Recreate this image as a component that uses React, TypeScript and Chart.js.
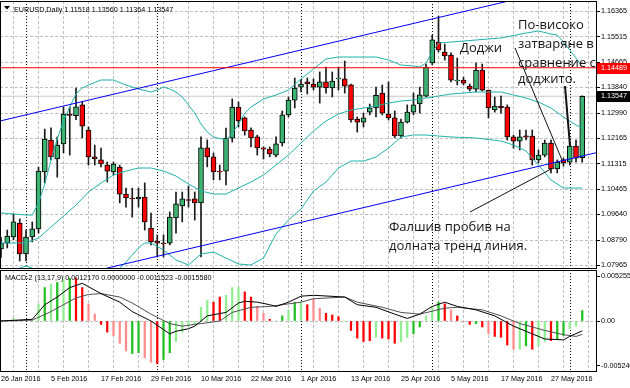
import React, { useEffect, useRef } from 'react';
import { Chart, registerables } from 'chart.js';
Chart.register(...registerables);

// ---------- data ----------
const dateTickIdx = [0, 8, 16, 24, 32, 40, 48, 56, 64, 72, 80, 88];
const dateTickLabels = ['26 Jan 2016', '5 Feb 2016', '17 Feb 2016', '29 Feb 2016', '10 Mar 2016', '22 Mar 2016', '1 Apr 2016', '13 Apr 2016', '25 Apr 2016', '5 May 2016', '17 May 2016', '27 May 2016'];
const monthStartIdx = [4, 25, 48, 69, 91];
const priceTicks = [1.16365, 1.15515, 1.14665, 1.1384, 1.1299, 1.12165, 1.11315, 1.10465, 1.0964, 1.0879, 1.07965];

const openP = [1.0850, 1.0869, 1.0889, 1.0935, 1.0833, 1.0889, 1.0916, 1.1104, 1.1210, 1.1147,
  1.1197, 1.1296, 1.1290, 1.1326, 1.1243, 1.1154, 1.1144, 1.1127, 1.1104, 1.1120,
  1.1031, 1.1018, 1.1015, 1.1021, 1.0919, 1.0876, 1.0869, 1.0869, 1.0952, 1.0992,
  1.1013, 1.1015, 1.1002, 1.1184, 1.1154, 1.1107, 1.1107, 1.1216, 1.1319, 1.1283,
  1.1243, 1.1220, 1.1184, 1.1180, 1.1160, 1.1200, 1.1293, 1.1342, 1.1385, 1.1402,
  1.1395, 1.1385, 1.1402, 1.1382, 1.1412, 1.1412, 1.1392, 1.1279, 1.1269, 1.1302,
  1.1316, 1.1365, 1.1296, 1.1283, 1.1223, 1.1269, 1.1302, 1.1329, 1.1355, 1.1465,
  1.1534, 1.1501, 1.1491, 1.1405, 1.1408, 1.1388, 1.1378, 1.1441, 1.1375, 1.1309,
  1.1322, 1.1319, 1.1220, 1.1206, 1.1224, 1.1223, 1.1144, 1.1160, 1.1200, 1.1114,
  1.1144, 1.1137, 1.1190, 1.11518];
const highP = [1.0888, 1.0912, 1.0965, 1.0949, 1.0912, 1.0939, 1.1120, 1.1246, 1.1250, 1.1220,
  1.1319, 1.1319, 1.1382, 1.1336, 1.1253, 1.1193, 1.1183, 1.1137, 1.1137, 1.1127,
  1.1051, 1.1051, 1.1051, 1.1068, 1.0968, 1.0896, 1.0896, 1.0972, 1.1038, 1.1038,
  1.1058, 1.1038, 1.1220, 1.1210, 1.1167, 1.1127, 1.1249, 1.1346, 1.1336, 1.1286,
  1.1250, 1.1226, 1.1187, 1.1187, 1.1220, 1.1306, 1.1352, 1.1415, 1.1408, 1.1415,
  1.1412, 1.1435, 1.1451, 1.1435, 1.1451, 1.1471, 1.1395, 1.1286, 1.1299, 1.1329,
  1.1385, 1.1392, 1.1402, 1.1306, 1.1279, 1.1326, 1.1365, 1.1385, 1.1461, 1.1557,
  1.1620, 1.1527, 1.1498, 1.1481, 1.1418, 1.1395, 1.1464, 1.1461, 1.1375, 1.1352,
  1.1355, 1.1326, 1.1226, 1.1243, 1.1243, 1.1243, 1.1177, 1.1210, 1.1210, 1.1144,
  1.1150, 1.1200, 1.1210, 1.13560];
const lowP = [1.0822, 1.0853, 1.0880, 1.0810, 1.0810, 1.0873, 1.0902, 1.1068, 1.1144, 1.1087,
  1.1167, 1.1160, 1.1277, 1.1217, 1.1127, 1.1127, 1.1121, 1.1071, 1.1094, 1.1002,
  1.0988, 1.0955, 1.0988, 1.0912, 1.0863, 1.0823, 1.0823, 1.0863, 1.0902, 1.0939,
  1.0988, 1.0945, 1.0823, 1.1121, 1.1078, 1.1078, 1.1061, 1.1203, 1.1253, 1.1226,
  1.1187, 1.1160, 1.1147, 1.1154, 1.1154, 1.1190, 1.1286, 1.1316, 1.1369, 1.1362,
  1.1375, 1.1332, 1.1365, 1.1352, 1.1375, 1.1365, 1.1269, 1.1236, 1.1253, 1.1293,
  1.1286, 1.1293, 1.1276, 1.1217, 1.1217, 1.1266, 1.1293, 1.1299, 1.1352, 1.1458,
  1.1501, 1.1474, 1.1402, 1.1392, 1.1392, 1.1372, 1.1369, 1.1372, 1.1283, 1.1302,
  1.1299, 1.1210, 1.1183, 1.1177, 1.1210, 1.1127, 1.1134, 1.1154, 1.1101, 1.1101,
  1.1124, 1.1127, 1.1137, 1.11364];
const closeP = [1.0869, 1.0892, 1.0939, 1.0833, 1.0889, 1.0916, 1.1107, 1.1213, 1.1154, 1.1193,
  1.1296, 1.1291, 1.1320, 1.1256, 1.1154, 1.1147, 1.1131, 1.1107, 1.1130, 1.1031,
  1.1018, 1.1015, 1.1021, 1.0939, 1.0873, 1.0869, 1.0866, 1.0955, 1.0999, 1.1015,
  1.1010, 1.1002, 1.1184, 1.1154, 1.1104, 1.1104, 1.1216, 1.1319, 1.1273, 1.1240,
  1.1217, 1.1184, 1.1180, 1.1164, 1.1197, 1.1293, 1.1342, 1.1382, 1.1395, 1.1395,
  1.1385, 1.1402, 1.1382, 1.1405, 1.1415, 1.1388, 1.1276, 1.1269, 1.1283, 1.1316,
  1.1358, 1.1299, 1.1283, 1.1223, 1.1269, 1.1302, 1.1326, 1.1359, 1.1451, 1.1541,
  1.1508, 1.1488, 1.1408, 1.1408, 1.1398, 1.1378, 1.1441, 1.1375, 1.1316, 1.1322,
  1.1316, 1.1220, 1.1206, 1.1220, 1.1219, 1.1144, 1.1160, 1.1200, 1.1114, 1.1137,
  1.1134, 1.1190, 1.1150, 1.13547];

const bbUpperIdx = [0, 2, 4, 5, 6, 7, 8, 9, 10, 11, 12, 13, 14, 16, 18, 20, 22, 24, 25, 26, 27, 28, 29, 30, 31, 32, 33, 34, 36, 37, 38, 39, 40, 42, 44, 46, 48, 50, 52, 54, 56, 58, 60, 62, 64, 66, 67, 68, 69, 70, 72, 76, 80, 84, 86, 88, 89, 90, 91, 92, 93];
const bbUpper = [1.09685, 1.09652, 1.09618, 1.09618, 1.10015, 1.10644, 1.11437, 1.12132, 1.12727, 1.13190,
  1.13620, 1.13818, 1.13917, 1.14083, 1.14083, 1.13917, 1.13785, 1.13686, 1.13752, 1.13851,
  1.13785, 1.13686, 1.13521, 1.13256, 1.12991, 1.12628, 1.12363, 1.12198, 1.12099, 1.12330,
  1.12628, 1.12991, 1.13190, 1.13454, 1.13587, 1.13752, 1.14116, 1.14447, 1.14777, 1.14843,
  1.14843, 1.14843, 1.14843, 1.14744, 1.14579, 1.14546, 1.14513, 1.14645, 1.15009, 1.15306,
  1.15339, 1.15406, 1.15472, 1.15637, 1.15703, 1.15604, 1.15571, 1.15339, 1.15075, 1.14810,
  1.14513];
const bbMidIdx = [0, 4, 6, 8, 10, 12, 14, 16, 18, 20, 22, 24, 26, 28, 30, 32, 34, 36, 38, 40, 42, 44, 46, 48, 50, 52, 54, 56, 58, 60, 62, 64, 66, 68, 70, 72, 74, 76, 78, 80, 82, 84, 86, 88, 90, 92, 93];
const bbMid = [1.08693, 1.08693, 1.08858, 1.09222, 1.09585, 1.09949, 1.10379, 1.10677, 1.10941, 1.11073,
  1.11173, 1.11173, 1.11073, 1.10908, 1.10644, 1.10412, 1.10313, 1.10313, 1.10511, 1.10710,
  1.10941, 1.11272, 1.11603, 1.11999, 1.12396, 1.12727, 1.12958, 1.13091, 1.13157, 1.13223,
  1.13322, 1.13388, 1.13421, 1.13488, 1.13554, 1.13620, 1.13653, 1.13686, 1.13686, 1.13686,
  1.13587, 1.13488, 1.13355, 1.13157, 1.12859, 1.12595, 1.12495];
const bbLowerIdx = [0, 2, 4, 5, 6, 8, 10, 12, 14, 16, 18, 19, 20, 22, 23, 24, 26, 28, 30, 32, 34, 36, 38, 40, 42, 44, 46, 48, 50, 52, 54, 56, 58, 60, 62, 64, 66, 68, 70, 72, 76, 80, 82, 84, 86, 88, 90, 92, 93];
const bbLower = [1.07734, 1.07800, 1.07932, 1.07866, 1.07634, 1.07006, 1.06477, 1.06278, 1.06808, 1.07271,
  1.07667, 1.07866, 1.08064, 1.08527, 1.08693, 1.08693, 1.08461, 1.08130, 1.07965, 1.08329,
  1.08395, 1.08196, 1.07998, 1.07965, 1.08196, 1.08990, 1.09453, 1.09817, 1.10412, 1.10710,
  1.11173, 1.11404, 1.11404, 1.11536, 1.11834, 1.12198, 1.12264, 1.12264, 1.12231, 1.12198,
  1.12165, 1.12066, 1.11933, 1.11735, 1.11272, 1.10776, 1.10511, 1.10511, 1.10511];

// Trend channel, level lines
const channelIdx = [-0.16, 95.36];
const channelUpper = [1.12727, 1.17386];
const channelLower = [1.07026, 1.11685];
const resistanceLevel = 1.14489;
const lastPrice = 1.13547;

// MACD-2 (13,17,9)
const histVal = [0.0001, 0.0000, 0.0003, 0.0000, 0.0000, 0.0001, 0.0020, 0.0039, 0.0043, 0.0045,
  0.0049, 0.0050, 0.0050, 0.0039, 0.0020, 0.0008, -0.0004, -0.0013, -0.0017, -0.0026,
  -0.0035, -0.0038, -0.0037, -0.0043, -0.0048, -0.0050, -0.0045, -0.0037, -0.0024, -0.0013,
  -0.0006, -0.0003, 0.0016, 0.0024, 0.0022, 0.0028, 0.0030, 0.0039, 0.0039, 0.0034,
  0.0028, 0.0017, 0.0009, 0.0002, 0.0000, 0.0006, 0.0013, 0.0022, 0.0022, 0.0019,
  0.0026, 0.0015, 0.0009, 0.0007, 0.0005, 0.0000, -0.0011, -0.0020, -0.0024, -0.0023,
  -0.0019, -0.0020, -0.0021, -0.0026, -0.0024, -0.0019, -0.0015, -0.0007, 0.0006, 0.0017,
  0.0022, 0.0020, 0.0013, 0.0006, 0.0000, -0.0004, -0.0003, -0.0007, -0.0015, -0.0018,
  -0.0019, -0.0028, -0.0033, -0.0033, -0.0029, -0.0033, -0.0029, -0.0024, -0.0023, -0.0022,
  -0.0017, -0.0009, -0.0006, 0.0012170];
const histTone = 'gggrgggGgGgGRRrrRRrrrGGrrRGGggggggRRgggRRrrRgGgGgRrrRRRgRRRRgRRRggGGggGRrRrRGRrRRRrgGRggRGGggG'.split('');
const macdIdx = [0, 5, 7, 9, 11, 13, 14, 16, 19, 21, 24, 27, 28, 30, 31, 33, 36, 38, 39, 41, 43, 44, 46, 48, 50, 55, 57, 60, 63, 65, 67, 69, 71, 73, 76, 79, 82, 85, 87, 90, 91, 93];
const macdVal = [0, 0.0002, 0.0019, 0.0028, 0.0039, 0.0044, 0.0040, 0.0032, 0.0022, 0.0011,
  0, -0.0015, -0.0012, -0.0009, -0.0006, 0.0006, 0.0010, 0.0021, 0.0023, 0.0022,
  0.0019, 0.0017, 0.0022, 0.0029, 0.0030, 0.0028, 0.0019, 0.0016, 0.0008, 0.0003,
  0.0008, 0.0017, 0.0022, 0.0017, 0.0013, 0.0006, -0.0006, -0.0015, -0.0021, -0.0022,
  -0.0018, -0.0011523];
const signalIdx = [0, 5, 8, 12, 14, 16, 19, 21, 24, 27, 29, 32, 35, 37, 40, 43, 45, 48, 50, 55, 57, 61, 64, 67, 71, 73, 77, 80, 83, 87, 90, 92, 93];
const signalVal = [0, 0.0001, 0.0011, 0.0027, 0.0031, 0.0032, 0.0028, 0.0021, 0.0008, -0.0003,
  -0.0006, -0.0003, 0, 0.0010, 0.0016, 0.0017, 0.0019, 0.0022, 0.0026, 0.0028,
  0.0022, 0.0016, 0.0010, 0.0008, 0.0015, 0.0016, 0.0013, 0.0006, -0.0003, -0.0011,
  -0.0016, -0.0018, -0.0015580];
const macdTicks = [0.005255, 0, -0.005246];
const macdTickLabels = ['0.005255', '0.00', '-0.005246'];

// annotation pointers (bar index, price)
const arrowFromIdx = [82.24, 90.24, 75.04];
const arrowFromPrice = [1.15141, 1.13884, 1.09718];
const arrowToIdx = [89.76, 91.04, 88.32];
const arrowToPrice = [1.11437, 1.11900, 1.11173];

// ---------- styles ----------
const FONT = '"Liberation Sans", Arial, sans-serif';
const NOTE_FONT = '13px "Open Sans", "DejaVu Sans", sans-serif';
const BULL = '#3CB371';
const BEAR = '#FF0000';
const BB_COLOR = '#20B2AA';
const GRID = '#C0C0C0';
const TONES: Record<string, string> = { G: '#20C020', g: '#90EE90', R: '#FF0000', r: '#FF8C8C' };
const X_MIN = -0.16;
const X_MAX = 95.36;
const P_MIN = 1.07833;
const P_MAX = 1.16696;
const M_MIN = -0.005956;
const M_MAX = 0.005956;
const gridIdx = Array.from({ length: 24 }, (_, k) => k * 4);

const notes = [
  { text: 'Доджи', x: 460, y: 52 },
  { text: 'По-високо', x: 518, y: 28.5 },
  { text: 'затваряне в', x: 518, y: 47.5 },
  { text: 'сравнение с', x: 518, y: 66.5 },
  { text: 'доджито.', x: 518, y: 83 },
  { text: 'Фалшив пробив на', x: 389, y: 231 },
  { text: 'долната тренд линия.', x: 389, y: 250 },
];

function separators(chart: any) {
  const { ctx, chartArea: a, scales } = chart;
  ctx.save();
  ctx.strokeStyle = '#000';
  ctx.lineWidth = 1;
  ctx.setLineDash([1, 2]);
  monthStartIdx.forEach((i) => {
    const px = Math.round(scales.x.getPixelForValue(i)) + 0.5;
    ctx.beginPath();
    ctx.moveTo(px, a.top);
    ctx.lineTo(px, a.bottom);
    ctx.stroke();
  });
  ctx.restore();
}

function frame(chart: any) {
  const { ctx, chartArea: a } = chart;
  ctx.save();
  ctx.strokeStyle = '#000';
  ctx.lineWidth = 1;
  ctx.strokeRect(a.left + 0.5, a.top + 0.5, a.right - a.left - 1, a.bottom - a.top - 1);
  ctx.restore();
}

const mainDecor = {
  id: 'mainDecor',
  beforeDatasetsDraw(chart: any) {
    separators(chart);
  },
  afterDatasetsDraw(chart: any) {
    const { ctx, scales } = chart;
    const x = scales.x;
    const y = scales.y;
    ctx.save();
    ctx.strokeStyle = '#111';
    arrowFromIdx.forEach((fi, k) => {
      ctx.lineWidth = k === 1 ? 2 : 1;
      ctx.beginPath();
      ctx.moveTo(x.getPixelForValue(fi), y.getPixelForValue(arrowFromPrice[k]));
      ctx.lineTo(x.getPixelForValue(arrowToIdx[k]), y.getPixelForValue(arrowToPrice[k]));
      ctx.stroke();
    });
    ctx.fillStyle = '#151515';
    ctx.font = NOTE_FONT;
    ctx.textBaseline = 'alphabetic';
    ctx.textAlign = 'left';
    notes.forEach((n) => ctx.fillText(n.text, n.x, n.y));
    ctx.restore();
  },
  afterDraw(chart: any) {
    const { ctx, scales, chartArea: a } = chart;
    frame(chart);
    ctx.save();
    // title
    ctx.fillStyle = '#000';
    ctx.beginPath();
    ctx.moveTo(4, 6);
    ctx.lineTo(10, 6);
    ctx.lineTo(7, 9.5);
    ctx.closePath();
    ctx.fill();
    ctx.font = `7.2px ${FONT}`;
    ctx.textBaseline = 'alphabetic';
    ctx.fillText(`EURUSD,Daily ${openP[93].toFixed(5)} ${highP[93].toFixed(5)} ${lowP[93].toFixed(5)} ${closeP[93].toFixed(5)}`, 14, 11.5);
    // price boxes
    const box = (v: number, bg: string) => {
      const py = Math.round(scales.y.getPixelForValue(v));
      ctx.fillStyle = bg;
      ctx.fillRect(a.right, py - 5, 630 - a.right, 11);
      ctx.fillStyle = '#fff';
      ctx.textBaseline = 'middle';
      ctx.fillText(v.toFixed(5), a.right + 4, py + 0.5);
    };
    box(resistanceLevel, '#FF0000');
    box(lastPrice, '#000');
    ctx.restore();
  },
};

const macdDecor = {
  id: 'macdDecor',
  beforeDatasetsDraw(chart: any) {
    separators(chart);
  },
  afterDraw(chart: any) {
    const { ctx } = chart;
    frame(chart);
    ctx.save();
    ctx.fillStyle = '#000';
    ctx.font = `7.2px ${FONT}`;
    ctx.textBaseline = 'alphabetic';
    ctx.fillText(`MACD-2 (13,17,9) ${histVal[93].toFixed(7)} 0.0000000 ${macdVal[macdVal.length - 1].toFixed(7)} ${signalVal[signalVal.length - 1].toFixed(7)}`, 5, 10);
    ctx.restore();
  },
};

export default function App() {
  const mainRef = useRef<HTMLCanvasElement>(null);
  const macdRef = useRef<HTMLCanvasElement>(null);

  useEffect(() => {
    const line = (idx: number[], vals: number[], color: string, order: number, width = 1) => ({
      type: 'line' as const,
      data: idx.map((x, k) => ({ x, y: vals[k] })),
      borderColor: color,
      borderWidth: width,
      pointRadius: 0,
      tension: 0,
      order,
    });

    const main = new Chart(mainRef.current as HTMLCanvasElement, {
      type: 'bar',
      data: {
        datasets: [
          line(channelIdx, [lastPrice, lastPrice], '#C8C8C8', 12, 1),
          {
            type: 'bar',
            data: highP.map((h, i) => ({ x: i, y: [lowP[i], h] })),
            backgroundColor: '#1a1a1a',
            borderWidth: 0,
            barThickness: 1,
            grouped: false,
            order: 11,
          } as any,
          {
            type: 'bar',
            data: openP.map((o, i) => ({ x: i, y: [o, closeP[i]] })),
            backgroundColor: openP.map((o, i) => (closeP[i] >= o ? BULL : BEAR)),
            borderColor: '#000',
            borderWidth: 1,
            borderSkipped: false,
            barThickness: 5,
            grouped: false,
            order: 10,
          } as any,
          line(bbUpperIdx, bbUpper, BB_COLOR, 5),
          line(bbMidIdx, bbMid, BB_COLOR, 5),
          line(bbLowerIdx, bbLower, BB_COLOR, 5),
          line(channelIdx, channelUpper, '#0000FF', 4),
          line(channelIdx, channelLower, '#0000FF', 4),
          line(channelIdx, [resistanceLevel, resistanceLevel], '#FF0000', 3),
        ] as any,
      },
      options: {
        responsive: false,
        animation: false,
        events: [],
        layout: { padding: { left: 0, right: 0, top: 1, bottom: 1 } },
        plugins: { legend: { display: false }, tooltip: { enabled: false } },
        scales: {
          x: {
            type: 'linear',
            min: X_MIN,
            max: X_MAX,
            offset: false,
            afterBuildTicks: (s: any) => { s.ticks = gridIdx.map((v) => ({ value: v })); },
            afterFit: (s: any) => { s.height = 0; s.paddingLeft = 0; s.paddingRight = 0; },
            ticks: { display: false },
            grid: { color: GRID, drawTicks: false },
            border: { display: false, dash: [3, 2] },
          },
          y: {
            type: 'linear',
            position: 'right',
            min: P_MIN,
            max: P_MAX,
            afterBuildTicks: (s: any) => { s.ticks = priceTicks.map((v) => ({ value: v })); },
            afterFit: (s: any) => { s.width = 33; s.paddingTop = 0; s.paddingBottom = 0; },
            ticks: {
              autoSkip: false,
              padding: 1,
              color: '#000',
              font: { family: FONT, size: 7.2 },
              callback: (v: any) => Number(v).toFixed(5),
            },
            grid: { color: GRID, tickColor: '#000', tickLength: 3 },
            border: { display: false, dash: [3, 2] },
          },
        },
      } as any,
      plugins: [mainDecor],
    });

    const macd = new Chart(macdRef.current as HTMLCanvasElement, {
      type: 'bar',
      data: {
        datasets: [
          line(macdIdx, macdVal, '#000000', 1),
          line(signalIdx, signalVal, '#505050', 2),
          {
            type: 'bar',
            data: histVal.map((v, i) => ({ x: i, y: v })),
            backgroundColor: histTone.map((t) => TONES[t]),
            borderWidth: 0,
            barThickness: 1.6,
            grouped: false,
            order: 3,
          } as any,
        ] as any,
      },
      options: {
        responsive: false,
        animation: false,
        events: [],
        layout: { padding: { left: 0, right: 0, top: 0, bottom: 0 } },
        plugins: { legend: { display: false }, tooltip: { enabled: false } },
        scales: {
          x: {
            type: 'linear',
            min: X_MIN,
            max: X_MAX,
            offset: false,
            afterBuildTicks: (s: any) => { s.ticks = gridIdx.map((v) => ({ value: v })); },
            afterFit: (s: any) => { s.height = 16; s.paddingLeft = 0; s.paddingRight = 0; },
            ticks: {
              autoSkip: false,
              maxRotation: 0,
              align: 'start',
              padding: 3,
              color: '#000',
              font: { family: FONT, size: 7.2 },
              callback: (v: any) => {
                const k = dateTickIdx.indexOf(Number(v));
                return k >= 0 ? dateTickLabels[k] : '';
              },
            },
            grid: { color: GRID, drawTicks: false },
            border: { display: false, dash: [3, 2] },
          },
          y: {
            type: 'linear',
            position: 'right',
            min: M_MIN,
            max: M_MAX,
            afterBuildTicks: (s: any) => { s.ticks = macdTicks.map((v) => ({ value: v })); },
            afterFit: (s: any) => { s.width = 33; s.paddingTop = 0; s.paddingBottom = 0; },
            ticks: {
              autoSkip: false,
              padding: 1,
              color: '#000',
              font: { family: FONT, size: 7.2 },
              callback: (v: any) => {
                const k = macdTicks.indexOf(Number(v));
                return k >= 0 ? macdTickLabels[k] : '';
              },
            },
            grid: {
              color: (c: any) => (c.tick && c.tick.value === 0 ? GRID : 'rgba(0,0,0,0)'),
              tickColor: '#000',
              tickLength: 3,
            },
            border: { display: false, dash: [3, 2] },
          },
        },
      } as any,
      plugins: [macdDecor],
    });

    return () => {
      main.destroy();
      macd.destroy();
    };
  }, []);

  return (
    <div style={{ position: 'fixed', left: 0, top: 0, width: 630, height: 388, background: '#fff', overflow: 'hidden' }}>
      <canvas ref={mainRef} width={630} height={270} style={{ position: 'absolute', left: 0, top: 0, width: 630, height: 270 }} />
      <canvas ref={macdRef} width={630} height={118} style={{ position: 'absolute', left: 0, top: 270, width: 630, height: 118 }} />
    </div>
  );
}
